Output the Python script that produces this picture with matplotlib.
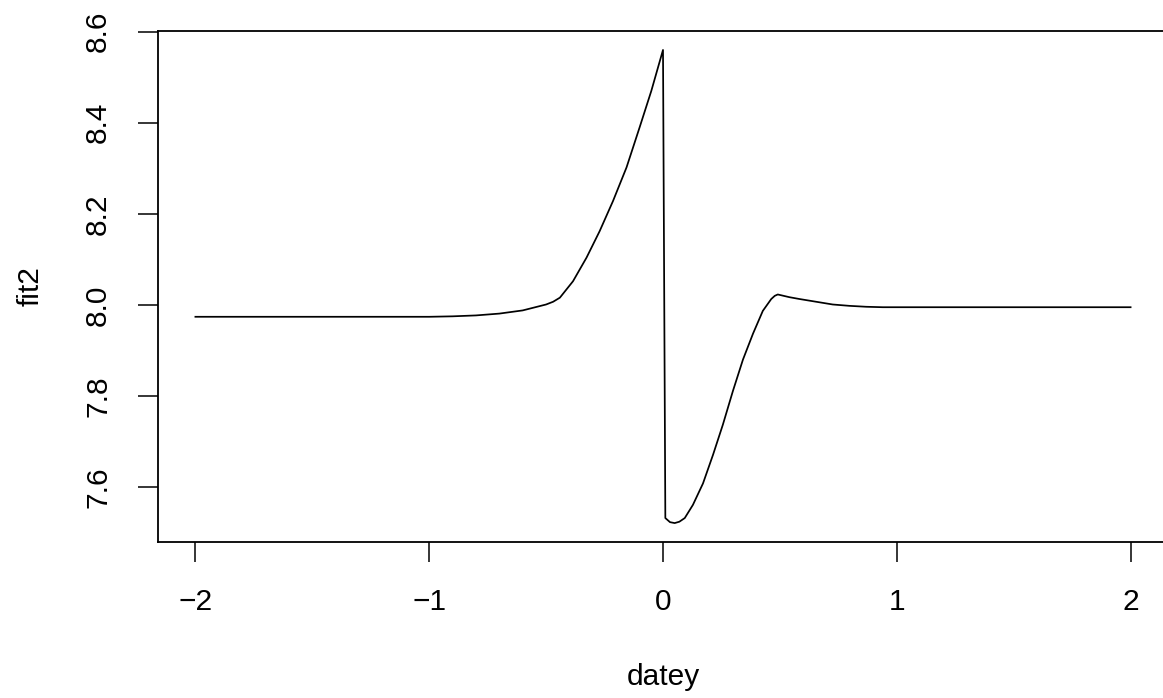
import numpy as np
import matplotlib
matplotlib.use("Agg")
import matplotlib.pyplot as plt

plt.rcParams['font.family'] = ['Liberation Sans', 'DejaVu Sans']

# fitted curve values (fit2) against datey
datey = [-2.0, -1.5, -1.0, -0.9, -0.8, -0.7, -0.6, -0.5, -0.47, -0.441, -0.385,
         -0.327, -0.271, -0.214, -0.156, -0.1, -0.05, 0.0,
         0.01, 0.03, 0.05, 0.07, 0.093, 0.128, 0.171, 0.214, 0.256, 0.299, 0.342,
         0.385, 0.427, 0.463, 0.478, 0.491, 0.541, 0.584, 0.655, 0.726, 0.798,
         0.869, 0.94, 1.0, 1.5, 2.0]
fit2 = [7.974, 7.974, 7.974, 7.975, 7.977, 7.981, 7.988, 8.001, 8.007, 8.016, 8.052,
        8.104, 8.162, 8.228, 8.302, 8.390, 8.470, 8.560,
        7.532, 7.523, 7.521, 7.524, 7.532, 7.561, 7.608, 7.671, 7.737, 7.811, 7.880,
        7.937, 7.987, 8.013, 8.020, 8.023, 8.017, 8.013, 8.007, 8.001, 7.998,
        7.996, 7.995, 7.995, 7.995, 7.995]

xticks = [-2, -1, 0, 1, 2]
yticks = [7.6, 7.8, 8.0, 8.2, 8.4, 8.6]

fig = plt.figure(figsize=(11.63, 6.98), dpi=100)
ax = fig.add_axes([158 / 1163, 156 / 698, 1010 / 1163, 511 / 698])

ax.plot(datey, fit2, color="black", linewidth=1.25)

# R-style 4% padding of the data range
x = np.array(datey)
y = np.array(fit2)
xp = 0.04 * (x.max() - x.min())
yp = 0.04 * (y.max() - y.min())
ax.set_xlim(x.min() - xp, x.max() + xp)
ax.set_ylim(y.min() - yp, y.max() + yp)

ax.set_xticks(xticks)
ax.set_xticklabels([f"{t:g}".replace("-", "\u2212") for t in xticks])
ax.set_yticks(yticks)
ax.set_yticklabels([f"{t:.1f}" for t in yticks], rotation=90, va="center", ha="center")
for lab in ax.get_xticklabels():
    lab.set_va("center")

ax.tick_params(axis="both", direction="out", length=14.4, width=1.1,
               labelsize=21.5, pad=28.8, color="black")

for s in ax.spines.values():
    s.set_linewidth(1.3)
    s.set_color("black")

ax.set_xlabel("datey", fontsize=21.5, va="center")
ax.xaxis.set_label_coords(0.5, -0.2636)
ax.set_ylabel("fit2", fontsize=21.5, va="center")
ax.yaxis.set_label_coords(-0.1257, 0.5)

fig.savefig("out.png", dpi=100)
